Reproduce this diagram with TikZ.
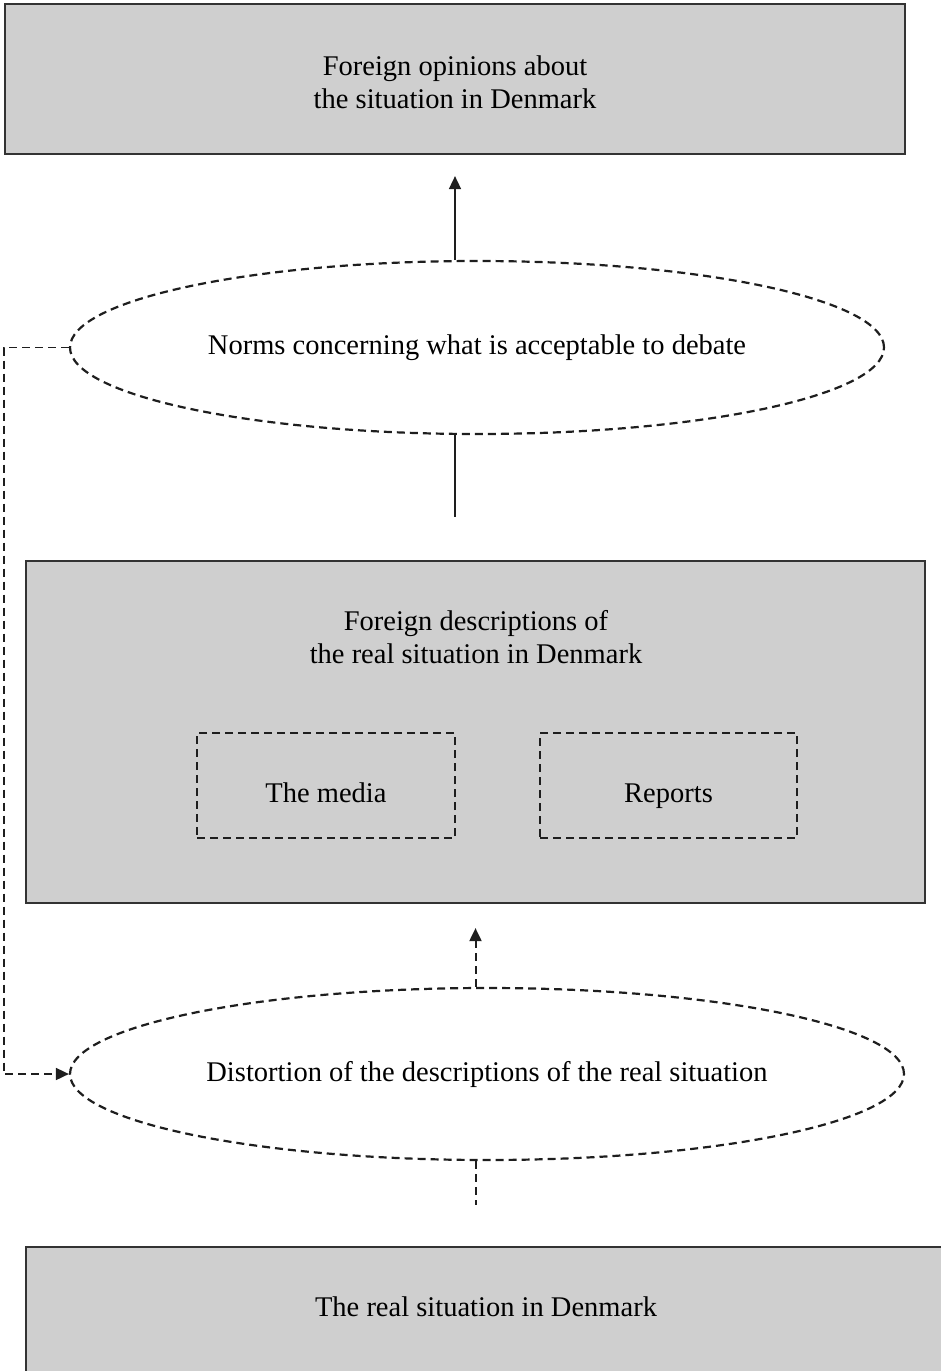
\documentclass[tikz,border=0pt]{standalone}
\usepackage{fontspec}
\setmainfont{Liberation Serif}
\usetikzlibrary{shapes.geometric,arrows.meta}
\definecolor{boxgray}{HTML}{CFCFCF}
\definecolor{edge}{HTML}{333333}
\definecolor{ink}{HTML}{1E1E1E}
\tikzset{
  txt/.style={font=\fontsize{28.5}{33}\selectfont, align=center, text=black},
  graybox/.style={draw=edge, line width=2.2pt, fill=boxgray, inner sep=0pt},
  dashbox/.style={draw=ink, line width=2.2pt, dash pattern=on 8pt off 5pt, inner sep=0pt, txt, text height=36pt, text depth=3pt},
  dashell/.style={ellipse, draw=ink, line width=2.2pt, dash pattern=on 8pt off 5pt, inner sep=0pt, txt},
  tip/.style={-{Triangle[length=13pt,width=12pt]}},
  solidline/.style={draw=ink, line width=1.6pt},
  dashline/.style={draw=ink, line width=2pt, dash pattern=on 8pt off 5pt},
}
\begin{document}
\begin{tikzpicture}[x=1pt,y=-1pt]
\useasboundingbox (0,0) rectangle (941,1371);

% top box
\node[graybox, minimum width=900pt, minimum height=150pt] (top) at (455,79) {};
\node[txt] (toptext) at (455,82) {Foreign opinions about\\the situation in Denmark};

% ellipse 1
\node[dashell, minimum width=814pt, minimum height=173pt] (e1) at (477,347.5)
  {Norms concerning what is acceptable to debate};

% middle box
\node[graybox, minimum width=899pt, minimum height=342pt] (mid) at (475.5,732) {};
\node[txt] (midtext) at (476,637) {Foreign descriptions of\\the real situation in Denmark};
\node[dashbox, minimum width=258pt, minimum height=105pt] (media) at (326,785.5) {The media};
\node[dashbox, minimum width=257pt, minimum height=105pt] (reports) at (668.5,785.5) {Reports};

% ellipse 2
\node[dashell, minimum width=834pt, minimum height=172pt] (e2) at (487,1074)
  {Distortion of the descriptions of the real situation};

% bottom box (runs off the page on the right and bottom)
\node[graybox, minimum width=930pt, minimum height=150pt] (bot) at (491,1322) {};
\node[txt] (bottext) at (486,1307) {The real situation in Denmark};

% connectors
\draw[solidline, tip, shorten >=21pt] (e1.north -| top.south) -- (top.south);
\draw[solidline, shorten >=43pt] (e1.south -| top.south) -- (mid.north -| top.south);
\draw[dashline, tip, shorten >=24pt] (e2.north -| mid.south) -- (mid.south);
\draw[dashline, shorten >=41pt] (e2.south -| mid.south) -- (bot.north -| mid.south);
\draw[dashline, line width=1.7pt, tip] (e1.west) -- ++(-65,0) |- (e2.west);
\end{tikzpicture}
\end{document}
